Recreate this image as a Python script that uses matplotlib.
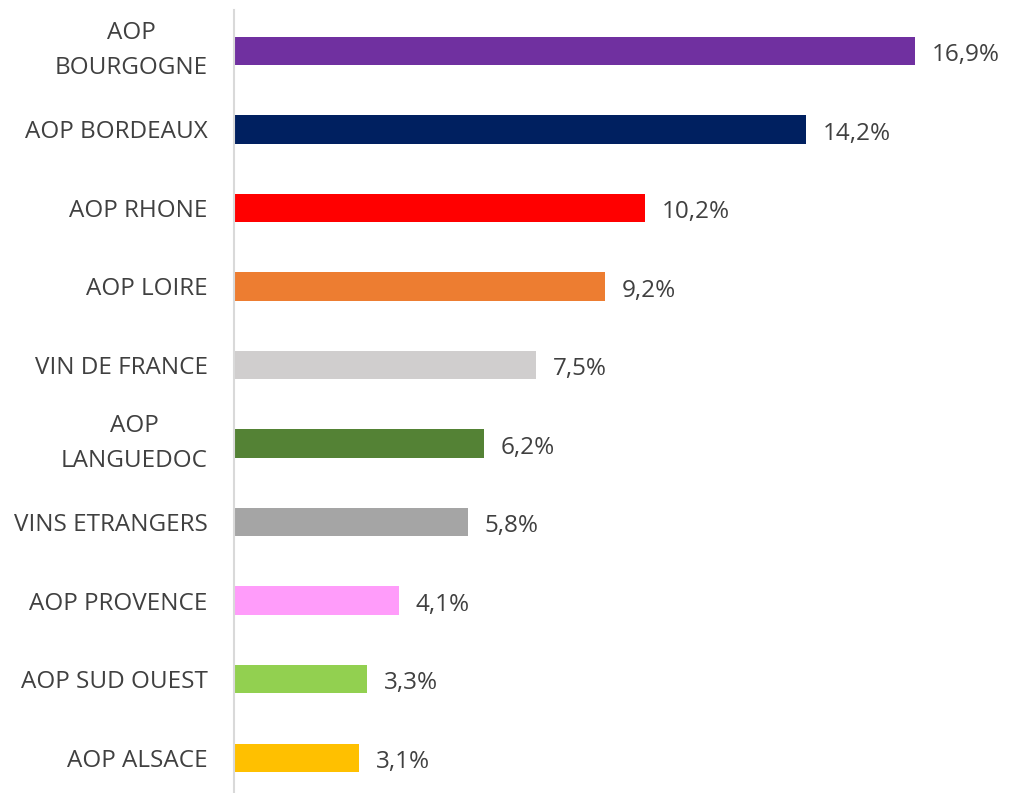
import matplotlib
matplotlib.use("Agg")
import matplotlib.pyplot as plt

categories = ["AOP\nBOURGOGNE", "AOP BORDEAUX", "AOP RHONE", "AOP LOIRE", "VIN DE FRANCE",
              "AOP\nLANGUEDOC", "VINS ETRANGERS", "AOP PROVENCE", "AOP SUD OUEST", "AOP ALSACE"]
values = [16.9, 14.2, 10.2, 9.2, 7.5, 6.2, 5.8, 4.1, 3.3, 3.1]
value_labels = ["16,9%", "14,2%", "10,2%", "9,2%", "7,5%", "6,2%", "5,8%", "4,1%", "3,3%", "3,1%"]
colors = ["#7030A0", "#002060", "#FF0000", "#ED7D31", "#D0CECE",
          "#548235", "#A5A5A5", "#FF9CFA", "#92D050", "#FFC000"]

plt.rcParams['font.family'] = ['Open Sans', 'DejaVu Sans']
text_color = "#404040"

fig = plt.figure(figsize=(10.09, 7.93), dpi=100)
ax = fig.add_axes([234/1009, 0, 1 - 234/1009, 1 - 10/793])

y = list(range(len(categories)))
ax.barh(y, values, height=0.36, color=colors)
ax.set_xlim(0, (1009 - 234) / 40.3)
ax.set_ylim(9.45, -0.52)

for yi, v, lab in zip(y, values, value_labels):
    ax.annotate(lab, (v, yi), xytext=(12, -3), textcoords="offset points",
                ha="left", va="center", fontsize=17.5, color=text_color)

ax.set_yticks(y)
ax.set_yticklabels(categories, fontsize=17.5, color=text_color, multialignment="center",
                   linespacing=1.6)
for t in ax.get_yticklabels():
    if "\n" in t.get_text():
        t.set_va("center")
ax.tick_params(axis="y", length=0, pad=19)
ax.set_xticks([])
for s in ["top", "right", "bottom"]:
    ax.spines[s].set_visible(False)
ax.spines["left"].set_color("#D9D9D9")
ax.spines["left"].set_linewidth(1.5)

fig.savefig("out.png", dpi=100)
